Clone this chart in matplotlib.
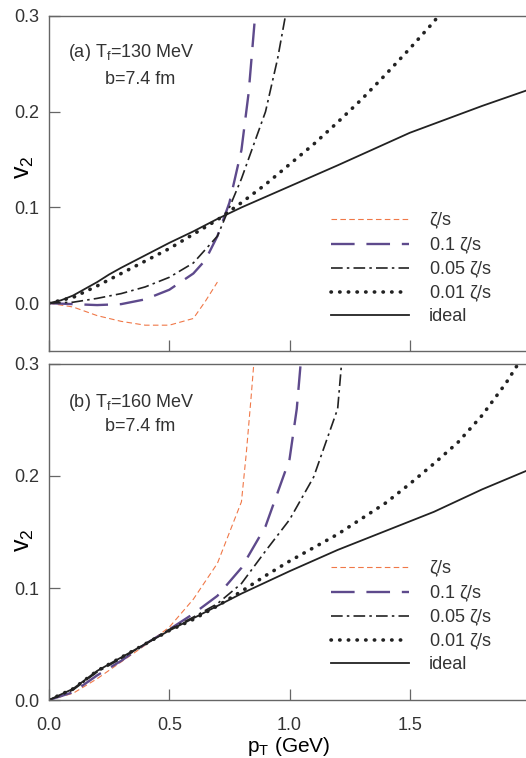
import matplotlib
matplotlib.use("Agg")
import matplotlib.pyplot as plt
from matplotlib.ticker import FormatStrFormatter

plt.rcParams['font.family'] = ['Liberation Sans', 'DejaVu Sans']
plt.rcParams['mathtext.default'] = 'regular'
plt.rcParams['font.size'] = 13
plt.rcParams['text.color'] = '#333333'
plt.rcParams['xtick.color'] = '#666666'
plt.rcParams['ytick.color'] = '#666666'
plt.rcParams['xtick.labelcolor'] = '#333333'
plt.rcParams['ytick.labelcolor'] = '#333333'

# ---- panel (a): T_f = 130 MeV ----
a_ideal_pt = [0, 0.05, 0.1, 0.15, 0.2, 0.25, 0.3, 0.4, 0.5, 0.6, 0.7, 0.8, 1.0, 1.2, 1.5, 1.8, 2.0]
a_ideal_v2 = [0, 0.003, 0.008, 0.015, 0.022, 0.030, 0.037, 0.050, 0.063, 0.075, 0.088, 0.100, 0.122, 0.144, 0.178, 0.206, 0.2235]

a_d01_pt = [0, 0.1, 0.2, 0.3, 0.4, 0.5, 0.6, 0.7, 0.8, 0.9, 1.0, 1.1, 1.2, 1.3, 1.4, 1.5, 1.6, 1.65]
a_d01_v2 = [0, 0.006, 0.018, 0.031, 0.044, 0.057, 0.072, 0.087, 0.105, 0.124, 0.145, 0.166, 0.189, 0.213, 0.239, 0.266, 0.294, 0.31]

a_d05_pt = [0, 0.1, 0.2, 0.3, 0.4, 0.5, 0.6, 0.7, 0.75, 0.8, 0.85, 0.9, 0.95, 0.99]
a_d05_v2 = [0, 0.001, 0.005, 0.010, 0.017, 0.027, 0.042, 0.070, 0.100, 0.130, 0.165, 0.200, 0.255, 0.31]

a_d1_pt = [0, 0.1, 0.2, 0.3, 0.4, 0.5, 0.6, 0.65, 0.7, 0.75, 0.8, 0.83, 0.86]
a_d1_v2 = [0, -0.001, -0.002, -0.001, 0.004, 0.014, 0.031, 0.045, 0.070, 0.105, 0.160, 0.22, 0.31]

a_z_pt = [0, 0.1, 0.2, 0.3, 0.4, 0.5, 0.6, 0.65, 0.7]
a_z_v2 = [0, -0.004, -0.013, -0.019, -0.023, -0.023, -0.016, 0.002, 0.022]

# ---- panel (b): T_f = 160 MeV ----
b_ideal_pt = [0, 0.1, 0.2, 0.3, 0.4, 0.5, 0.6, 0.7, 0.8, 0.9, 1.0, 1.2, 1.4, 1.6, 1.8, 2.0]
b_ideal_v2 = [0, 0.010, 0.026, 0.038, 0.050, 0.062, 0.073, 0.084, 0.095, 0.105, 0.115, 0.134, 0.151, 0.168, 0.188, 0.206]

b_d01_pt = [0, 0.1, 0.2, 0.3, 0.4, 0.5, 0.6, 0.7, 0.8, 0.9, 1.0, 1.1, 1.2, 1.3, 1.4, 1.5, 1.6, 1.7, 1.8, 1.9, 1.95, 2.0]
b_d01_v2 = [0, 0.010, 0.026, 0.038, 0.050, 0.062, 0.072, 0.084, 0.097, 0.111, 0.124, 0.136, 0.148, 0.162, 0.176, 0.193, 0.211, 0.230, 0.254, 0.283, 0.30, 0.32]

b_d05_pt = [0, 0.1, 0.2, 0.3, 0.4, 0.5, 0.6, 0.7, 0.8, 0.9, 1.0, 1.1, 1.2, 1.22]
b_d05_v2 = [0, 0.009, 0.025, 0.037, 0.050, 0.063, 0.074, 0.086, 0.104, 0.133, 0.161, 0.199, 0.26, 0.31]

b_d1_pt = [0, 0.1, 0.2, 0.3, 0.4, 0.5, 0.6, 0.7, 0.8, 0.9, 1.0, 1.03, 1.05]
b_d1_v2 = [0, 0.007, 0.022, 0.035, 0.050, 0.063, 0.077, 0.093, 0.118, 0.155, 0.215, 0.26, 0.31]

b_z_pt = [0, 0.1, 0.2, 0.3, 0.4, 0.5, 0.6, 0.7, 0.8, 0.82, 0.84, 0.855]
b_z_v2 = [0, 0.006, 0.019, 0.034, 0.049, 0.065, 0.090, 0.122, 0.177, 0.22, 0.27, 0.31]

labels = [r'$\zeta$/s', r'0.1 $\zeta$/s', r'0.05 $\zeta$/s', r'0.01 $\zeta$/s', 'ideal']

fig = plt.figure(figsize=(5.26, 7.58), dpi=100)
ax_a = fig.add_axes([0.0932, 0.5369, 0.91, 0.4420])
ax_b = fig.add_axes([0.0932, 0.0765, 0.91, 0.4433])

panels = [
    (ax_a, [(a_z_pt, a_z_v2), (a_d1_pt, a_d1_v2), (a_d05_pt, a_d05_v2), (a_d01_pt, a_d01_v2), (a_ideal_pt, a_ideal_v2)],
     (-0.05, 0.3), '(a) T$_f$=130 MeV', (0.890, 0.809), 0.055, 0.55),
    (ax_b, [(b_z_pt, b_z_v2), (b_d1_pt, b_d1_v2), (b_d05_pt, b_d05_v2), (b_d01_pt, b_d01_v2), (b_ideal_pt, b_ideal_v2)],
     (0.0, 0.3), '(b) T$_f$=160 MeV', (0.884, 0.8125), 0.058, 0.476),
]

for ax, series, ylim, title, ty, leg_y, lab_y in panels:
    (zx, zy), (d1x, d1y), (d5x, d5y), (dpx, dpy), (ix, iy) = series
    ax.plot(zx, zy, color='#f07848', lw=0.8, dashes=(5, 3), label=labels[0])
    ax.plot(d1x, d1y, color='#5e4a8c', lw=1.7, dashes=(10, 5), label=labels[1])
    ax.plot(d5x, d5y, color='#222222', lw=1.2, dashes=(7, 2.5, 1.5, 2.5), label=labels[2])
    ax.plot(dpx, dpy, color='#222222', lw=2.6, dashes=(0.1, 2.3), dash_capstyle='round', label=labels[3])
    ax.plot(ix, iy, color='#222222', lw=1.3, label=labels[4])

    ax.set_xlim(0, 1.99)
    ax.set_ylim(*ylim)
    ax.set_xticks([0.0, 0.5, 1.0, 1.5])
    ax.set_yticks([0.0, 0.1, 0.2, 0.3])
    ax.yaxis.set_major_formatter(FormatStrFormatter('%.1f'))
    ax.xaxis.set_major_formatter(FormatStrFormatter('%.1f'))
    ax.tick_params(direction='in', length=8, width=0.9, labelsize=13)
    ax.tick_params(axis='y', pad=7)
    ax.tick_params(axis='x', pad=12)
    for s in ['top', 'left', 'bottom']:
        ax.spines[s].set_color('#666666')
        ax.spines[s].set_linewidth(1.0)
    ax.spines['right'].set_visible(False)
    ax.set_ylabel('v$_2$', fontsize=18)
    ax.yaxis.set_label_coords(-0.027, lab_y)

    ax.text(0.04, ty[0], title, transform=ax.transAxes, ha='left', va='center', fontsize=13)
    ax.text(0.19, ty[1], 'b=7.4 fm', transform=ax.transAxes, ha='center', va='center', fontsize=13)

    ax.legend(loc='lower left', bbox_to_anchor=(0.575, leg_y),
              frameon=False, handlelength=4.3, handletextpad=1.1, labelspacing=0.22, fontsize=13,
              borderaxespad=0.0)

ax_a.tick_params(labelbottom=False)
ax_b.set_xlabel('p$_T$ (GeV)', fontsize=15, labelpad=1)

fig.savefig('out.png', dpi=100)
